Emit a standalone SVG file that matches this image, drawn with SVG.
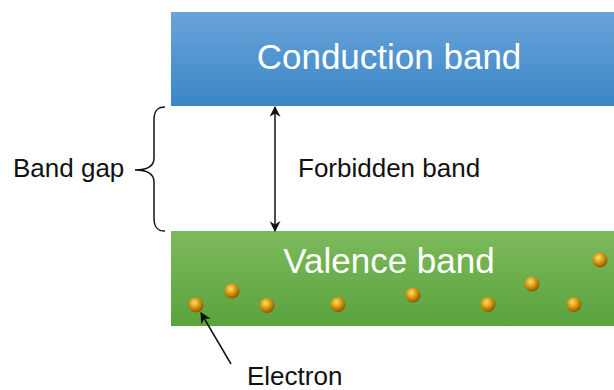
<svg xmlns="http://www.w3.org/2000/svg" width="614" height="390" viewBox="0 0 614 390">
<defs>
<linearGradient id="gBlue" x1="0" y1="0" x2="0" y2="1"><stop offset="0" stop-color="#6aa3d9"/><stop offset="1" stop-color="#3a86c6"/></linearGradient>
<linearGradient id="gGreen" x1="0" y1="0" x2="0" y2="1"><stop offset="0" stop-color="#7db95b"/><stop offset="1" stop-color="#5aa33d"/></linearGradient>
<radialGradient id="gBall" cx="0.4" cy="0.35" r="0.65"><stop offset="0" stop-color="#ffe070"/><stop offset="0.5" stop-color="#d99a10"/><stop offset="1" stop-color="#8a5a05"/></radialGradient>
<marker id="ah" viewBox="0 0 10 10" refX="9" refY="5" markerWidth="11" markerHeight="11" markerUnits="userSpaceOnUse" orient="auto-start-reverse"><path d="M0,0 L10,5 L0,10 L3,5 Z" fill="#111"/></marker>
</defs>
<style>
.lbl{font-family:"Liberation Sans",Arial,sans-serif;fill:#111;font-size:26px}
.big{font-family:"Liberation Sans",Arial,sans-serif;fill:#fff;font-size:35px;text-anchor:middle}
.ball{fill:url(#gBall)}
.ln{stroke:#111;stroke-width:1.5;fill:none}
</style>
<g id="conduction">
<rect x="171" y="12" width="443" height="94" fill="url(#gBlue)"/>
<text class="big" x="389" y="69">Conduction band</text>
</g>
<g id="valence">
<rect x="171" y="231" width="443" height="95" fill="url(#gGreen)"/>
<text class="big" x="389" y="273">Valence band</text>
<circle class="ball" cx="196" cy="305" r="7.5"/>
<circle class="ball" cx="232" cy="291" r="7.5"/>
<circle class="ball" cx="267" cy="305.5" r="7.5"/>
<circle class="ball" cx="338" cy="304.5" r="7.5"/>
<circle class="ball" cx="413" cy="295" r="7.5"/>
<circle class="ball" cx="488" cy="304.5" r="7.5"/>
<circle class="ball" cx="532" cy="284" r="7.5"/>
<circle class="ball" cx="574" cy="304.5" r="7.5"/>
<circle class="ball" cx="600" cy="260" r="7.5"/>
</g>
<g id="bandgap">
<path class="ln" d="M165,107 C157,107 154,111 154,120 L154,158 C154,166 148,170 135,170 C148,170 154,174 154,182 L154,218 C154,227 157,231 165,231"/>
<text class="lbl" x="13" y="177">Band gap</text>
</g>
<g id="forbidden">
<text class="lbl" x="298" y="177">Forbidden band</text>
</g>
<g id="electron-label">
<text class="lbl" x="247" y="385">Electron</text>
</g>
<g id="connectors">
<line class="ln" x1="275" y1="107" x2="275" y2="231" marker-start="url(#ah)" marker-end="url(#ah)"/>
<line class="ln" x1="231" y1="364" x2="201" y2="313" marker-end="url(#ah)"/>
</g>
</svg>
